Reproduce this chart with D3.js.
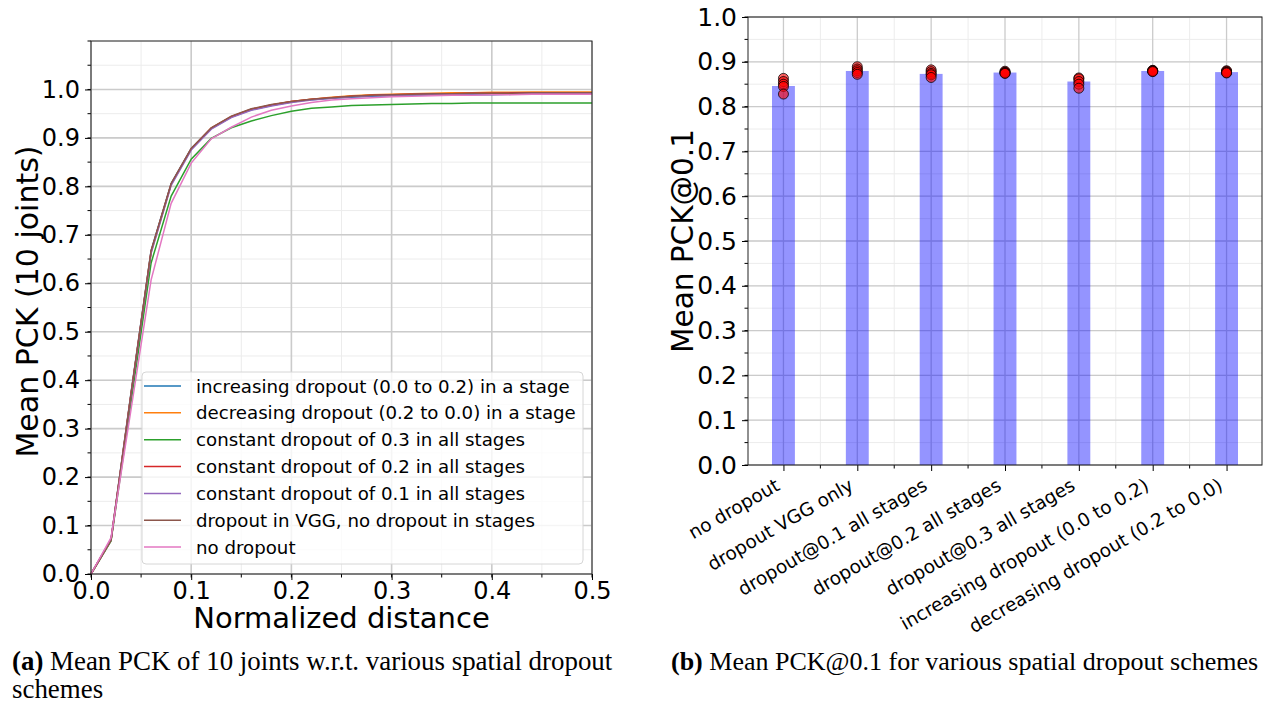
<!DOCTYPE html>
<html><head><meta charset="utf-8">
<script src="https://cdn.jsdelivr.net/npm/d3@7"></script>
<style>body{margin:0;background:#fff}svg{display:block}text{font-family:"DejaVu Sans",sans-serif;fill:#000}</style>
</head><body><svg id="c" width="1271" height="704"></svg>
<script>
// ---- Left chart data ----
const distances = [0,0.02,0.04,0.06,0.08,0.10,0.12,0.14,0.16,0.18,0.20,0.22,0.24,0.26,0.28,0.30,0.32,0.34,0.36,0.38,0.40,0.42,0.44,0.46,0.48,0.50];
const seriesNames = ["increasing dropout (0.0 to 0.2) in a stage","decreasing dropout (0.2 to 0.0) in a stage","constant dropout of 0.3 in all stages","constant dropout of 0.2 in all stages","constant dropout of 0.1 in all stages","dropout in VGG, no dropout in stages","no dropout"];
const seriesColors = ["#1f77b4","#ff7f0e","#2ca02c","#d62728","#9467bd","#8c564b","#e377c2"];
const increasingVals = [0,0.072,0.375,0.668,0.806,0.878,0.919,0.943,0.958,0.967,0.974,0.979,0.982,0.984,0.986,0.987,0.988,0.988,0.989,0.989,0.989,0.990,0.990,0.990,0.990,0.990];
const decreasingVals = [0,0.070,0.372,0.664,0.804,0.877,0.920,0.944,0.959,0.968,0.975,0.980,0.984,0.987,0.989,0.990,0.991,0.992,0.993,0.993,0.994,0.994,0.995,0.995,0.995,0.995];
const const03Vals = [0,0.068,0.355,0.642,0.780,0.856,0.899,0.921,0.935,0.946,0.955,0.961,0.964,0.967,0.968,0.969,0.970,0.971,0.971,0.972,0.972,0.972,0.972,0.972,0.972,0.972];
const const02Vals = [0,0.071,0.373,0.666,0.805,0.877,0.920,0.944,0.959,0.968,0.975,0.980,0.983,0.986,0.988,0.989,0.990,0.991,0.991,0.992,0.992,0.993,0.993,0.993,0.993,0.993];
const const01Vals = [0,0.070,0.370,0.662,0.802,0.875,0.918,0.942,0.957,0.966,0.973,0.978,0.982,0.985,0.987,0.988,0.989,0.990,0.990,0.991,0.991,0.991,0.991,0.992,0.992,0.992];
const vggVals = [0,0.069,0.372,0.667,0.806,0.878,0.921,0.945,0.960,0.969,0.975,0.980,0.983,0.986,0.988,0.989,0.990,0.991,0.991,0.992,0.992,0.992,0.993,0.993,0.993,0.993];
const noDropVals = [0,0.075,0.340,0.607,0.765,0.848,0.898,0.922,0.943,0.957,0.966,0.973,0.978,0.981,0.983,0.985,0.986,0.987,0.988,0.988,0.989,0.989,0.990,0.990,0.990,0.990];
const leftYTicks = [0,0.1,0.2,0.3,0.4,0.5,0.6,0.7,0.8,0.9,1.0];
const leftXTicks = [0,0.1,0.2,0.3,0.4,0.5];

// ---- Right chart data ----
const schemes = ["no dropout","dropout VGG only","dropout@0.1 all stages","dropout@0.2 all stages","dropout@0.3 all stages","increasing dropout (0.0 to 0.2)","decreasing dropout (0.2 to 0.0)"];
const meanPck = [0.846,0.8795,0.873,0.876,0.856,0.8795,0.877];
const runPck = [
  [0.863,0.856,0.850,0.845,0.828],
  [0.889,0.884,0.880,0.876,0.872],
  [0.882,0.878,0.874,0.871,0.865],
  [0.879,0.877,0.876,0.875,0.874],
  [0.864,0.862,0.856,0.850,0.841],
  [0.881,0.880,0.880,0.879,0.878],
  [0.880,0.879,0.877,0.876,0.875]
];
const rightYTicks = [0,0.1,0.2,0.3,0.4,0.5,0.6,0.7,0.8,0.9,1.0];

const allSeries = [increasingVals,decreasingVals,const03Vals,const02Vals,const01Vals,vggVals,noDropVals];
const svg = d3.select("#c");
svg.append("rect").attr("width",1271).attr("height",704).attr("fill","#fff");
const fmt = d3.format(".1f");
const majorGrid = "#cbcbcb", minorGrid = "#ececec";

// ===== Left chart =====
const L = {l:91, r:592, t:41, b:574};
const xL = d3.scaleLinear().domain([0,0.5]).range([L.l,L.r]);
const yL = d3.scaleLinear().domain([0,1.1]).range([L.b,L.t]);
const gL = svg.append("g");
const xMinorL = d3.range(0,0.5001,0.05), yMinorL = d3.range(0,1.1001,0.05);
gL.append("g").selectAll("line").data(xMinorL).join("line")
  .attr("x1",d=>xL(d)).attr("x2",d=>xL(d)).attr("y1",L.t).attr("y2",L.b).attr("stroke",minorGrid).attr("stroke-width",1);
gL.append("g").selectAll("line").data(yMinorL).join("line")
  .attr("y1",d=>yL(d)).attr("y2",d=>yL(d)).attr("x1",L.l).attr("x2",L.r).attr("stroke",minorGrid).attr("stroke-width",1);
gL.append("g").selectAll("line").data(leftXTicks).join("line")
  .attr("x1",d=>xL(d)).attr("x2",d=>xL(d)).attr("y1",L.t).attr("y2",L.b).attr("stroke",majorGrid).attr("stroke-width",1.6);
gL.append("g").selectAll("line").data(leftYTicks).join("line")
  .attr("y1",d=>yL(d)).attr("y2",d=>yL(d)).attr("x1",L.l).attr("x2",L.r).attr("stroke",majorGrid).attr("stroke-width",1.6);

const line = d3.line().x((d,i)=>xL(distances[i])).y(d=>yL(d));
allSeries.forEach((vals,k)=>{
  gL.append("path").datum(vals).attr("d",line).attr("fill","none")
    .attr("stroke",seriesColors[k]).attr("stroke-width",1.5);
});
// axes
const axLY = d3.axisLeft(yL).tickValues(leftYTicks).tickFormat(fmt).tickSize(6).tickPadding(5);
const axLX = d3.axisBottom(xL).tickValues(leftXTicks).tickFormat(fmt).tickSize(6).tickPadding(3);
const gay = gL.append("g").attr("transform",`translate(${L.l},0)`).call(axLY);
const gax = gL.append("g").attr("transform",`translate(0,${L.b})`).call(axLX);
[gay,gax].forEach(g=>{g.select(".domain").remove(); g.selectAll("text").attr("font-size",24).attr("font-family","DejaVu Sans").attr("fill","#000"); g.selectAll("line").attr("stroke","#000");});
gax.selectAll("text").attr("dy","0.68em");
gL.append("g").selectAll("line").data(yMinorL).join("line").attr("x1",L.l-3.5).attr("x2",L.l).attr("y1",d=>yL(d)).attr("y2",d=>yL(d)).attr("stroke","#000");
gL.append("g").selectAll("line").data(xMinorL).join("line").attr("y1",L.b).attr("y2",L.b+3.5).attr("x1",d=>xL(d)).attr("x2",d=>xL(d)).attr("stroke","#000");
gL.append("rect").attr("x",L.l).attr("y",L.t).attr("width",L.r-L.l).attr("height",L.b-L.t).attr("fill","none").attr("stroke","#222").attr("stroke-width",1);
// legend
const lg = gL.append("g");
lg.append("rect").attr("x",142).attr("y",372).attr("width",441).attr("height",192).attr("rx",4)
  .attr("fill","#fff").attr("fill-opacity",0.8).attr("stroke","#d6d6d6");
seriesNames.forEach((n,k)=>{
  const yy = 386 + k*26.85;
  lg.append("line").attr("x1",144).attr("x2",181).attr("y1",yy).attr("y2",yy).attr("stroke",seriesColors[k]).attr("stroke-width",1.5);
  lg.append("text").attr("x",196).attr("y",yy).attr("dy","0.36em").attr("font-size",18.2).text(n);
});
gL.append("text").attr("x",(L.l+L.r)/2).attr("y",628).attr("text-anchor","middle").attr("font-size",29).text("Normalized distance");
gL.append("text").attr("transform",`translate(38,301.5) rotate(-90)`).attr("text-anchor","middle").attr("font-size",30).text("Mean PCK (10 joints)");

// ===== Right chart =====
const R = {l:748, r:1262, t:17, b:465};
const xR = d3.scaleLinear().domain([-0.48,6.48]).range([R.l,R.r]);
const yR = d3.scaleLinear().domain([0,1]).range([R.b,R.t]);
const gR = svg.append("g");
const idx = d3.range(schemes.length);
const yMinorR = d3.range(0,1.0001,0.05);
const xMinorR = d3.range(-0.5,6.51,1).filter(d=>xR(d)>R.l && xR(d)<R.r);
gR.append("g").selectAll("line").data(yMinorR).join("line").attr("y1",d=>yR(d)).attr("y2",d=>yR(d)).attr("x1",R.l).attr("x2",R.r).attr("stroke",minorGrid);
gR.append("g").selectAll("line").data(xMinorR).join("line").attr("x1",d=>xR(d)).attr("x2",d=>xR(d)).attr("y1",R.t).attr("y2",R.b).attr("stroke",minorGrid);
gR.append("g").selectAll("line").data(rightYTicks).join("line").attr("y1",d=>yR(d)).attr("y2",d=>yR(d)).attr("x1",R.l).attr("x2",R.r).attr("stroke",majorGrid).attr("stroke-width",1.3);
gR.append("g").selectAll("line").data(idx).join("line").attr("x1",d=>xR(d)).attr("x2",d=>xR(d)).attr("y1",R.t).attr("y2",R.b).attr("stroke",majorGrid).attr("stroke-width",1.3);
const bw = 0.31;
gR.append("g").selectAll("rect").data(meanPck).join("rect")
  .attr("x",(d,i)=>xR(i-bw/2)).attr("width",xR(bw)-xR(0)).attr("y",d=>yR(d)).attr("height",d=>yR(0)-yR(d))
  .attr("fill","#0000ff").attr("fill-opacity",0.42);
const dots = [];
runPck.forEach((arr,i)=>arr.forEach(v=>dots.push({i,v})));
gR.append("g").selectAll("circle").data(dots).join("circle")
  .attr("cx",d=>xR(d.i)).attr("cy",d=>yR(d.v)).attr("r",5)
  .attr("fill","rgba(255,0,0,0.6)").attr("stroke","rgba(0,0,0,0.75)").attr("stroke-width",1);
const axRY = d3.axisLeft(yR).tickValues(rightYTicks).tickFormat(fmt).tickSize(6).tickPadding(5);
const gry = gR.append("g").attr("transform",`translate(${R.l},0)`).call(axRY);
gry.select(".domain").remove();
gry.selectAll("text").attr("font-size",25).attr("fill","#000");
gry.selectAll("line").attr("stroke","#000");
gR.append("g").selectAll("line").data(yMinorR).join("line").attr("x1",R.l-3.5).attr("x2",R.l).attr("y1",d=>yR(d)).attr("y2",d=>yR(d)).attr("stroke","#000");
const axRX = d3.axisBottom(xR).tickValues(idx).tickFormat(i=>schemes[i]).tickSize(6).tickPadding(0);
const grx = gR.append("g").attr("transform",`translate(0,${R.b})`).call(axRX);
grx.select(".domain").remove();
grx.selectAll("line").attr("stroke","#000");
grx.selectAll("text").attr("font-size",18.5).attr("fill","#000").attr("text-anchor","end")
  .attr("y",0).attr("dy",0).attr("transform","translate(-3,24) rotate(-30)");
gR.append("g").selectAll("line").data(xMinorR).join("line").attr("y1",R.b).attr("y2",R.b+3.5).attr("x1",d=>xR(d)).attr("x2",d=>xR(d)).attr("stroke","#000");
gR.append("rect").attr("x",R.l).attr("y",R.t).attr("width",R.r-R.l).attr("height",R.b-R.t).attr("fill","none").attr("stroke","#222");
gR.append("text").attr("transform",`translate(693,${(R.t+R.b)/2}) rotate(-90)`).attr("text-anchor","middle").attr("font-size",29.5).text("Mean PCK@0.1");

// ===== Captions =====
const cap = svg.append("g");
const c1 = cap.append("text").attr("x",12).attr("y",670).attr("font-size",26.9).style("font-family","Liberation Serif");
c1.append("tspan").attr("font-weight","bold").text("(a)");
c1.append("tspan").text(" Mean PCK of 10 joints w.r.t.  various spatial dropout");
cap.append("text").attr("x",12).attr("y",698).attr("font-size",26.9).style("font-family","Liberation Serif").text("schemes");
const c2 = cap.append("text").attr("x",671).attr("y",670).attr("font-size",26.0).style("font-family","Liberation Serif");
c2.append("tspan").attr("font-weight","bold").text("(b)");
c2.append("tspan").text(" Mean PCK@0.1 for various spatial dropout schemes");
</script></body></html>
